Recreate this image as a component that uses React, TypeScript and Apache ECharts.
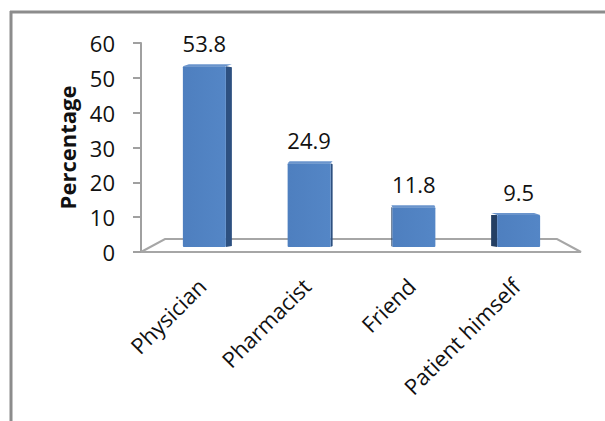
import React, { useEffect, useRef } from "react";
import * as echarts from "echarts";

const categories = ["Physician", "Pharmacist", "Friend", "Patient himself"];
const values = [53.8, 24.9, 11.8, 9.5];
const yMin = 0;
const yMax = 60;
const yInterval = 10;
const yTitle = "Percentage";

const FONT = '"Open Sans", "Liberation Sans", sans-serif';

export default function App() {
  const ref = useRef<HTMLDivElement>(null);
  useEffect(() => {
    document.body.style.margin = "0";
    const chart = echarts.init(ref.current!, null, { renderer: "svg" });
    const sideDx = [6, 2, -1, -6];
    const option: any = {
      animation: false,
      backgroundColor: "#ffffff",
      grid: { left: 152, right: 34, top: 43, bottom: 169, containLabel: false },
      graphic: [
        { type: "line", shape: { x1: 11, y1: 11, x2: 11, y2: 421 }, style: { stroke: "#8c8c8c", lineWidth: 3 } },
        { type: "line", shape: { x1: 10, y1: 12, x2: 605, y2: 12 }, style: { stroke: "#8c8c8c", lineWidth: 3 } },
      ],
      xAxis: {
        type: "category",
        data: categories,
        axisLine: { show: false },
        axisTick: { show: false },
        axisLabel: { rotate: 45, margin: 27, padding: [0, 4, 0, 0], fontSize: 22, fontFamily: FONT, color: "#111" },
      },
      yAxis: {
        type: "value",
        min: yMin,
        max: yMax,
        interval: yInterval,
        offset: 11,
        name: yTitle,
        nameLocation: "middle",
        nameRotate: 90,
        nameGap: 63,
        nameTextStyle: { fontSize: 22, fontWeight: "bold", fontFamily: FONT, color: "#111" },
        axisLine: { show: true, lineStyle: { color: "#a0a0a0", width: 2 } },
        axisTick: { show: true, length: 8, lineStyle: { color: "#a0a0a0", width: 2 } },
        splitLine: { show: false },
        axisLabel: { margin: 26, fontSize: 22, fontFamily: FONT, color: "#111" },
      },
      series: [
        {
          type: "custom",
          z: 1,
          data: [[0, 0]],
          renderItem: (params: any) => {
            const cs = params.coordSys;
            const yb = cs.y + cs.height;
            return {
              type: "polygon",
              shape: {
                points: [
                  [cs.x - 11, yb],
                  [cs.x + cs.width + 10, yb],
                  [cs.x + cs.width - 14, yb - 13],
                  [cs.x + 13, yb - 13],
                ],
              },
              style: { fill: "#ffffff", stroke: "#a6a6a6", lineWidth: 2 },
            };
          },
        },
        {
          type: "custom",
          z: 2,
          data: values.map((v, i) => [i, v]),
          encode: { x: 0, y: 1 },
          renderItem: (params: any, api: any) => {
            const i = api.value(0);
            const v = api.value(1);
            const c0 = api.coord([i, 0]);
            const cv = api.coord([i, v]);
            const w = 43;
            const B = c0[1] - 5;
            const h = (c0[1] - cv[1]) * 0.965;
            const T = B - h;
            const L = c0[0] - w / 2;
            const R = c0[0] + w / 2;
            const dx = sideDx[i];
            const dy = -2;
            const children: any[] = [];
            if (dx > 0) {
              children.push({
                type: "polygon",
                shape: { points: [[R, T], [R + dx, T + dy + 3], [R + dx, B - 1], [R, B]] },
                style: { fill: "#2d5080" },
              });
            } else if (dx < 0) {
              children.push({
                type: "polygon",
                shape: { points: [[L, T], [L + dx, T + dy + 2], [L + dx, B - 1], [L, B]] },
                style: { fill: "#243f63" },
              });
            }
            children.push({
              type: "polygon",
              shape: { points: [[L, T], [R, T], [R + dx, T + dy], [L + dx, T + dy]] },
              style: { fill: "#6a94cc" },
            });
            children.push({
              type: "rect",
              shape: { x: L, y: T, width: w, height: B - T, r: 1 },
              style: {
                fill: new echarts.graphic.LinearGradient(0, 0, 1, 0, [
                  { offset: 0, color: "#4e7fbf" },
                  { offset: 1, color: "#5486c6" },
                ]),
              },
            });
            children.push({
              type: "text",
              style: {
                text: String(v),
                x: c0[0],
                y: T - 23,
                align: "center",
                verticalAlign: "middle",
                font: `22px ${FONT}`,
                fill: "#111",
              },
            });
            return { type: "group", children };
          },
        },
      ],
    };
    chart.setOption(option);
    return () => chart.dispose();
  }, []);
  return <div ref={ref} style={{ width: 605, height: 421 }} />;
}
